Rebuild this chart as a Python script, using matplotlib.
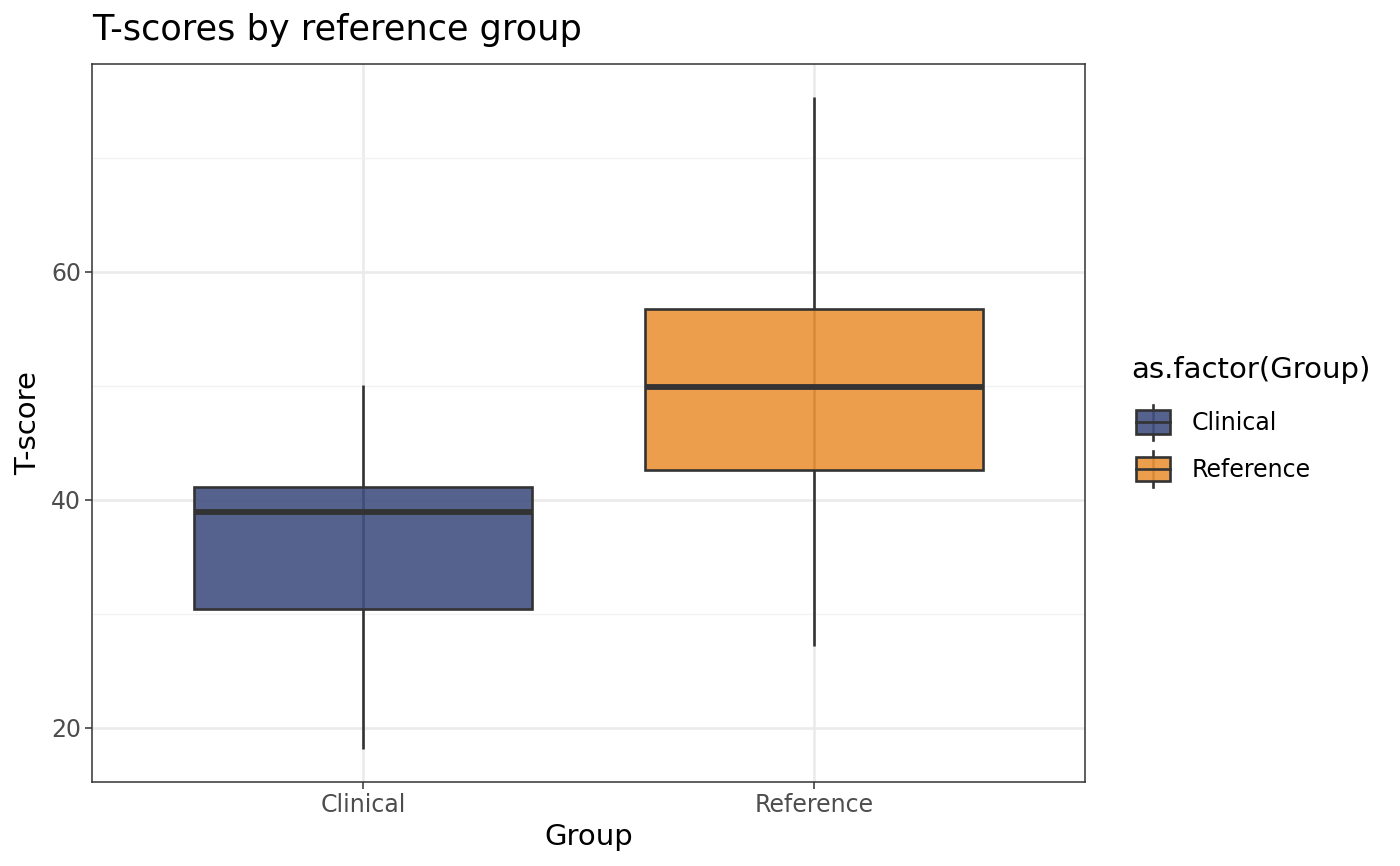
import matplotlib
matplotlib.use("Agg")
import matplotlib.pyplot as plt
from matplotlib.legend_handler import HandlerBase
from matplotlib.patches import Rectangle
from matplotlib.lines import Line2D

# ---- data ----
groups = ["Clinical", "Reference"]
whisker_low = [18.1, 27.2]
q1 = [30.4, 42.6]
median = [38.95, 49.9]
q3 = [41.15, 56.75]
whisker_high = [50.1, 75.35]
fill_colors = ["#415181", "#EB9439"]
yticks = [20, 40, 60]
minor_yticks = [30, 50, 70]

title = "T-scores by reference group"
xlabel = "Group"
ylabel = "T-score"
legend_title = "as.factor(Group)"

W, H = 1400, 866
fig = plt.figure(figsize=(W / 100, H / 100), dpi=100)
ax = fig.add_axes([92 / W, 1 - 782 / H, (1085 - 92) / W, (782 - 64) / H])

edge = "#333333"
grid_major = "#EBEBEB"
grid_minor = "#F2F2F2"

stats = []
for i, g in enumerate(groups):
    stats.append(dict(label=g, whislo=whisker_low[i], q1=q1[i], med=median[i],
                      q3=q3[i], whishi=whisker_high[i], fliers=[]))

positions = list(range(1, len(groups) + 1))
# whiskers drawn first (behind the semi-transparent boxes)
for p, s in zip(positions, stats):
    ax.plot([p, p], [s["whislo"], s["whishi"]], color=edge, lw=1.9, zorder=2,
            solid_capstyle="butt")
bp = ax.bxp(stats, positions=positions, widths=0.75, patch_artist=True,
            showcaps=False, manage_ticks=False,
            whiskerprops=dict(linewidth=0),
            boxprops=dict(linewidth=1.9, edgecolor=edge),
            medianprops=dict(color=edge, linewidth=4.2, solid_capstyle="butt"))
for patch, c in zip(bp["boxes"], fill_colors):
    patch.set_facecolor(matplotlib.colors.to_rgba(c, 0.9))
    patch.set_zorder(3)
for m in bp["medians"]:
    m.set_zorder(4)

# axes limits with ggplot-like expansion
lo, hi = min(whisker_low), max(whisker_high)
pad = (hi - lo) * 0.05
ax.set_ylim(lo - pad, hi + pad)
ax.set_xlim(0.4, len(groups) + 0.6)

ax.set_xticks(positions)
ax.set_xticklabels(groups)
ax.set_yticks(yticks)
ax.set_yticks(minor_yticks, minor=True)
ax.tick_params(axis="both", which="major", labelsize=17, colors="#333333",
               labelcolor="#4D4D4D", length=5, width=1.1)
ax.tick_params(axis="both", which="minor", length=0)
ax.tick_params(axis="x", pad=3)
ax.tick_params(axis="y", pad=3)

ax.grid(True, which="major", color=grid_major, lw=1.9, zorder=0)
ax.grid(True, which="minor", axis="y", color=grid_minor, lw=1.0, zorder=0)
ax.set_axisbelow(True)
for sp in ax.spines.values():
    sp.set_color("#333333")
    sp.set_linewidth(1.1)

ax.set_xlabel(xlabel, fontsize=21, labelpad=4)
ax.set_ylabel(ylabel, fontsize=21, labelpad=6)
fig.text(92 / W, 1 - 30 / H, title, fontsize=25.3, ha="left", va="center")


class BoxHandler(HandlerBase):
    def __init__(self, color):
        super().__init__()
        self.color = color

    def create_artists(self, legend, orig_handle, xdescent, ydescent, width,
                       height, fontsize, trans):
        off = width * 5.0 / 39.0
        x0 = -xdescent + off
        bw = width - off
        cx = x0 + bw / 2
        h = height
        wl = Line2D([cx, cx], [-ydescent - 0.24 * h, -ydescent + 1.24 * h],
                    color=edge, lw=1.9, transform=trans)
        r = Rectangle((x0, -ydescent), bw, h,
                      facecolor=matplotlib.colors.to_rgba(self.color, 0.9),
                      edgecolor=edge, lw=1.9, transform=trans)
        ml = Line2D([x0, x0 + bw],
                    [-ydescent + 0.5 * h, -ydescent + 0.5 * h],
                    color=edge, lw=1.9, transform=trans)
        return [wl, r, ml]


handles = [Rectangle((0, 0), 1, 1) for _ in groups]
hmap = {h: BoxHandler(c) for h, c in zip(handles, fill_colors)}
leg = fig.legend(handles, groups, handler_map=hmap, title=legend_title,
                 loc="upper left", bbox_to_anchor=(1131 / W, 1 - 356 / H),
                 frameon=False, fontsize=17, title_fontsize=21,
                 handlelength=1.65, handleheight=1.18, handletextpad=0.9,
                 labelspacing=0.92, alignment="left", borderaxespad=0,
                 borderpad=0)
leg._legend_box.sep = 19

fig.savefig("out.png", dpi=100, facecolor="white")
